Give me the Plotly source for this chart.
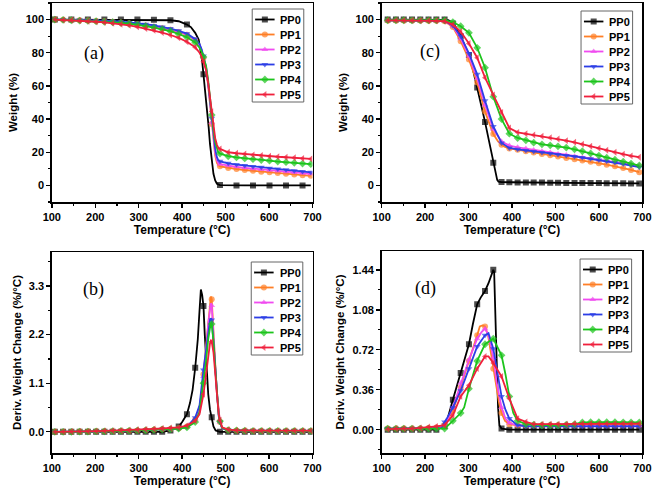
import plotly.graph_objects as go

# ---------------- data ----------------
names = ["PP0", "PP1", "PP2", "PP3", "PP4", "PP5"]

# panels (a) and (b): marker temperatures
T_ab = [107, 126, 145, 164, 183, 202, 221, 240, 259, 278, 297, 316, 335, 354, 373, 392,
        411, 430, 449, 468, 487, 506, 525, 544, 563, 582, 601, 620, 639, 658, 677, 696]
# panels (c) and (d): marker temperatures
T_cd = [114, 133, 151, 170, 189, 208, 226, 245, 264, 282, 301, 320, 338, 357, 376, 394,
        413, 432, 450, 469, 488, 506, 525, 544, 562, 581, 600, 618, 637, 656, 674, 693]

# (a) weight %
a_PP0 = [100, 100, 100, 100, 100, 100, 100, 100, 100, 100, 100, 100, 99.9, 99.8, 99.6, 99.0,
         97.0, 92.0, 67.0, 14.0, 0.2, 0, 0, 0, 0, 0, 0, 0, 0, 0, 0, 0]
a_PP1 = [100, 99.9, 99.8, 99.6, 99.4, 99.2, 99.0, 98.7, 98.3, 97.8, 97.2, 96.5, 95.7, 94.8, 93.8, 92.5,
         90.8, 87.5, 77.0, 37.0, 11.5, 10.5, 9.9, 9.3, 8.8, 8.3, 7.9, 7.5, 7.0, 6.6, 6.2, 5.8]
a_PP2 = [100, 99.9, 99.8, 99.7, 99.5, 99.3, 99.1, 98.8, 98.4, 98.0, 97.4, 96.8, 96.0, 95.1, 94.0, 92.7,
         91.0, 87.8, 77.5, 38.0, 12.8, 11.8, 11.2, 10.6, 10.1, 9.6, 9.1, 8.7, 8.2, 7.8, 7.4, 7.0]
a_PP3 = [100, 99.9, 99.8, 99.7, 99.6, 99.4, 99.2, 99.0, 98.7, 98.3, 97.8, 97.2, 96.5, 95.6, 94.6, 93.2,
         91.5, 88.3, 78.0, 40.5, 14.5, 13.3, 12.6, 12.0, 11.4, 10.9, 10.4, 9.9, 9.4, 8.9, 8.4, 7.9]
a_PP4 = [100, 99.8, 99.6, 99.4, 99.2, 99.0, 98.7, 98.4, 98.0, 97.5, 96.9, 96.1, 95.2, 94.2, 93.0, 91.3,
         89.3, 86.2, 77.5, 42.5, 19.2, 17.6, 16.9, 16.3, 15.8, 15.3, 14.9, 14.4, 14.0, 13.6, 13.2, 12.8]
a_PP5 = [100, 99.8, 99.6, 99.3, 99.0, 98.7, 98.3, 97.8, 97.2, 96.5, 95.6, 94.6, 93.5, 92.2, 90.7, 89.0,
         86.6, 83.3, 74.5, 44.5, 22.0, 20.0, 19.4, 18.9, 18.4, 18.0, 17.6, 17.3, 17.0, 16.7, 16.3, 16.0]
# (a) extra line points between markers
a_PP0_xT = [420, 438, 443, 446, 453, 457, 461, 464, 472, 476, 480]
a_PP0_xV = [95.5, 88, 81, 75, 57, 47, 35, 25, 7, 3, 1]
a_xT = [440, 445, 455, 460, 464, 472, 476, 480, 483]
a_PP1_xV = [84.5, 81.0, 70.0, 60.0, 49.0, 26.0, 18.0, 13.5, 12.2]
a_PP2_xV = [84.8, 81.5, 70.5, 60.5, 49.5, 27.5, 19.5, 15.0, 13.5]
a_PP3_xV = [85.3, 82.0, 71.5, 61.5, 51.0, 30.0, 22.0, 17.0, 15.3]
a_PP4_xV = [83.0, 80.5, 72.0, 63.0, 52.5, 33.5, 26.0, 21.5, 20.0]
a_PP5_xV = [80.0, 77.5, 69.5, 61.5, 53.0, 35.0, 28.5, 24.5, 22.8]

# (b) derivative weight change %/°C
b_PP0 = [0, 0, 0, 0, 0, 0, 0, 0, 0, 0, 0, 0, 0, 0, 0.03, 0.12,
         0.40, 1.45, 2.85, 0.33, 0.0, 0, 0, 0, 0, 0, 0, 0, 0, 0, 0, 0]
b_PP1 = [0, 0, 0, 0.005, 0.005, 0.01, 0.01, 0.015, 0.02, 0.025, 0.03, 0.035, 0.045, 0.055, 0.065, 0.08,
         0.12, 0.28, 1.3, 3.0, 0.22, 0.04, 0.03, 0.025, 0.02, 0.02, 0.02, 0.02, 0.02, 0.02, 0.02, 0.02]
b_PP2 = [0, 0, 0, 0.005, 0.005, 0.01, 0.01, 0.015, 0.02, 0.025, 0.03, 0.035, 0.045, 0.055, 0.065, 0.08,
         0.12, 0.28, 1.25, 2.86, 0.22, 0.04, 0.03, 0.025, 0.02, 0.02, 0.02, 0.02, 0.02, 0.02, 0.02, 0.02]
b_PP3 = [0, 0, 0, 0.005, 0.005, 0.01, 0.01, 0.015, 0.02, 0.025, 0.03, 0.035, 0.045, 0.055, 0.06, 0.07,
         0.11, 0.32, 1.4, 2.53, 0.22, 0.04, 0.03, 0.025, 0.02, 0.02, 0.02, 0.02, 0.02, 0.02, 0.02, 0.02]
b_PP4 = [0, 0, 0, 0.005, 0.005, 0.01, 0.01, 0.015, 0.02, 0.025, 0.03, 0.035, 0.045, 0.055, 0.06, 0.07,
         0.10, 0.22, 1.1, 2.44, 0.24, 0.04, 0.03, 0.025, 0.02, 0.02, 0.02, 0.02, 0.02, 0.02, 0.02, 0.02]
b_PP5 = [0, 0, 0.005, 0.01, 0.01, 0.015, 0.02, 0.025, 0.03, 0.035, 0.045, 0.055, 0.065, 0.075, 0.085, 0.1,
         0.14, 0.25, 0.85, 2.04, 0.26, 0.05, 0.03, 0.03, 0.025, 0.025, 0.025, 0.025, 0.025, 0.025, 0.025, 0.025]
b_PP0_xT = [380, 400, 418, 424, 436, 440, 443, 446, 452, 456, 460, 464, 472, 477]
b_PP0_xV = [0.06, 0.22, 0.65, 0.95, 2.1, 2.75, 3.22, 3.1, 2.2, 1.45, 0.85, 0.5, 0.12, 0.03]
b_xT = [440, 445, 455, 460, 464, 466, 472, 476, 480, 484, 492]
b_PP1_xV = [0.55, 0.9, 1.9, 2.55, 2.95, 3.06, 2.4, 1.55, 0.85, 0.38, 0.08]
b_PP2_xV = [0.55, 0.9, 1.85, 2.45, 2.82, 2.91, 2.3, 1.5, 0.85, 0.38, 0.08]
b_PP3_xV = [0.6, 1.1, 1.85, 2.3, 2.52, 2.57, 2.05, 1.4, 0.8, 0.36, 0.08]
b_PP4_xV = [0.45, 0.8, 1.6, 2.1, 2.4, 2.47, 2.05, 1.45, 0.85, 0.4, 0.09]
b_PP5_xV = [0.4, 0.65, 1.3, 1.75, 2.0, 2.06, 1.8, 1.35, 0.85, 0.4, 0.1]

# (c) weight %
c_PP0 = [100, 100, 100, 100, 100, 100, 100, 100, 97.6, 90.0, 78.6, 59.0, 38.3, 13.6, 2.0, 1.9,
         1.8, 1.8, 1.7, 1.7, 1.6, 1.6, 1.5, 1.5, 1.4, 1.4, 1.4, 1.3, 1.3, 1.3, 1.2, 1.2]
c_PP1 = [99.5, 99.5, 99.5, 99.4, 99.4, 99.3, 99.3, 99.0, 95.5, 87.0, 76.0, 62.0, 44.5, 31.0, 24.5, 22.3,
         21.5, 20.6, 19.8, 19.0, 18.2, 17.4, 16.6, 15.8, 15.0, 14.2, 13.4, 12.5, 11.5, 10.5, 9.3, 8.0]
c_PP2 = [99.5, 99.5, 99.5, 99.5, 99.4, 99.4, 99.3, 99.1, 96.0, 88.5, 78.0, 64.5, 48.5, 34.0, 26.5, 24.0,
         23.0, 22.2, 21.4, 20.6, 19.8, 19.0, 18.3, 17.6, 16.9, 16.2, 15.5, 14.8, 14.1, 13.4, 12.7, 12.0]
c_PP3 = [99.6, 99.6, 99.6, 99.5, 99.5, 99.4, 99.4, 99.2, 96.5, 90.0, 79.6, 67.0, 51.0, 35.6, 25.6, 22.6,
         21.8, 21.1, 20.5, 19.9, 19.3, 18.7, 18.1, 17.5, 16.8, 16.1, 15.4, 14.6, 13.8, 12.9, 12.0, 11.0]
c_PP4 = [99.6, 99.6, 99.6, 99.5, 99.5, 99.5, 99.5, 99.5, 98.5, 96.0, 92.0, 83.0, 71.0, 53.5, 40.0, 31.2,
         28.6, 27.2, 25.8, 24.8, 24.2, 23.6, 22.8, 21.8, 20.6, 19.3, 18.0, 16.7, 15.5, 14.3, 13.2, 12.0]
c_PP5 = [99.5, 99.5, 99.4, 99.4, 99.3, 99.3, 99.2, 99.0, 97.0, 92.8, 85.6, 77.0, 65.0, 54.6, 44.0, 34.6,
         32.0, 31.2, 30.4, 29.6, 28.8, 28.0, 27.0, 26.0, 24.8, 23.6, 22.4, 21.2, 20.0, 18.8, 17.8, 17.0]
c_PP0_xT = [252, 256, 270, 290, 310, 330, 347, 352, 362, 366, 369]
c_PP0_xV = [99.8, 99.3, 95.8, 85.5, 70.0, 47.5, 27.0, 20.5, 7.0, 3.3, 2.3]
c_PP1_xT = [368, 384]
c_PP1_xV = [26.5, 23.2]

# (d) derivative weight change %/°C
d_PP0 = [0, 0, 0, 0, 0, 0, 0, 0.03, 0.27, 0.51, 0.77, 1.13, 1.25, 1.44, 0.01, 0,
         0, 0, 0, 0, 0, 0, 0, 0, 0, 0, 0, 0, 0, 0, 0, 0]
d_PP1 = [0.01, 0.01, 0.01, 0.01, 0.01, 0.015, 0.02, 0.04, 0.17, 0.38, 0.62, 0.85, 0.93, 0.55, 0.15, 0.05,
         0.04, 0.04, 0.04, 0.04, 0.04, 0.04, 0.04, 0.04, 0.045, 0.045, 0.045, 0.045, 0.045, 0.045, 0.045, 0.045]
d_PP2 = [0.01, 0.01, 0.01, 0.01, 0.01, 0.015, 0.02, 0.03, 0.2, 0.42, 0.63, 0.82, 0.91, 0.65, 0.2, 0.06,
         0.04, 0.035, 0.035, 0.035, 0.035, 0.035, 0.035, 0.035, 0.035, 0.035, 0.035, 0.035, 0.035, 0.035, 0.035, 0.035]
d_PP3 = [0.01, 0.01, 0.01, 0.01, 0.01, 0.01, 0.01, 0.07, 0.2, 0.35, 0.55, 0.75, 0.85, 0.73, 0.3, 0.1,
         0.04, 0.03, 0.03, 0.03, 0.03, 0.03, 0.03, 0.03, 0.03, 0.03, 0.03, 0.03, 0.03, 0.03, 0.03, 0.03]
d_PP4 = [0.01, 0.01, 0.01, 0.01, 0.01, 0.01, 0.01, 0.01, 0.08, 0.15, 0.37, 0.62, 0.77, 0.82, 0.67, 0.3,
         0.08, 0.05, 0.045, 0.04, 0.04, 0.04, 0.045, 0.05, 0.065, 0.068, 0.068, 0.068, 0.068, 0.066, 0.065, 0.065]
d_PP5 = [0.005, 0.01, 0.01, 0.01, 0.015, 0.025, 0.03, 0.04, 0.13, 0.3, 0.4, 0.55, 0.66, 0.6, 0.48, 0.28,
         0.1, 0.07, 0.05, 0.05, 0.05, 0.05, 0.05, 0.055, 0.055, 0.055, 0.055, 0.055, 0.055, 0.055, 0.055, 0.055]
d_PP0_xT = [252, 310, 328, 346, 359, 362, 365, 368, 371]
d_PP0_xV = [0.1, 0.95, 1.19, 1.32, 1.42, 1.1, 0.6, 0.2, 0.04]
d_PP1_xT = [326, 332, 345, 350, 365, 370, 384]
d_PP1_xV = [0.93, 0.94, 0.85, 0.73, 0.35, 0.25, 0.08]
d_PP2_xT = [330, 345, 350, 365, 385]
d_PP2_xV = [0.88, 0.86, 0.78, 0.42, 0.1]
d_PP3_xT = [238, 250, 346, 365, 385]
d_PP3_xV = [0.015, 0.1, 0.87, 0.55, 0.18]
d_PP4_xT = [290, 295, 385, 403]
d_PP4_xV = [0.2, 0.28, 0.5, 0.15]
d_PP5_xT = [346]
d_PP5_xV = [0.66]

# ---------------- styling ----------------
colors = ["#000000", "#FF7F27", "#F04BF0", "#2C3EE6", "#1DC41D", "#F0203C"]
symbols = ["square", "circle", "triangle-up", "triangle-down", "diamond", "triangle-left"]
FONT = "Liberation Sans, Arial, sans-serif"
MS = 6
LW = 1.8
W, H = 663, 492

fig = go.Figure()


def add_series(T, V, xT, xV, i, xa, ya, every=1):
    pts = [(t, v, True) for t, v in zip(T, V)] + [(t, v, False) for t, v in zip(xT, xV)]
    pts.sort(key=lambda p: p[0])
    xs = [p[0] for p in pts]
    ys = [p[1] for p in pts]
    sizes = []
    k = 0
    for p in pts:
        if p[2]:
            sizes.append(MS if k % every == 0 else 0)
            k += 1
        else:
            sizes.append(0)
    fig.add_trace(go.Scatter(
        x=xs, y=ys, mode="lines+markers", xaxis=xa, yaxis=ya, showlegend=False,
        line=dict(color=colors[i], width=LW),
        marker=dict(symbol=symbols[i], size=sizes, color=colors[i], line=dict(width=0)),
        hoverinfo="skip"))


panels = [
    ("x", "y", T_ab,
     [a_PP0, a_PP1, a_PP2, a_PP3, a_PP4, a_PP5],
     [(a_PP0_xT, a_PP0_xV), (a_xT, a_PP1_xV), (a_xT, a_PP2_xV), (a_xT, a_PP3_xV), (a_xT, a_PP4_xV), (a_xT, a_PP5_xV)],
     2),
    ("x2", "y2", T_cd,
     [c_PP0, c_PP1, c_PP2, c_PP3, c_PP4, c_PP5],
     [(c_PP0_xT, c_PP0_xV), (c_PP1_xT, c_PP1_xV), ([], []), ([], []), ([], []), ([], [])],
     1),
    ("x3", "y3", T_ab,
     [b_PP0, b_PP1, b_PP2, b_PP3, b_PP4, b_PP5],
     [(b_PP0_xT, b_PP0_xV), (b_xT, b_PP1_xV), (b_xT, b_PP2_xV), (b_xT, b_PP3_xV), (b_xT, b_PP4_xV), (b_xT, b_PP5_xV)],
     1),
    ("x4", "y4", T_cd,
     [d_PP0, d_PP1, d_PP2, d_PP3, d_PP4, d_PP5],
     [(d_PP0_xT, d_PP0_xV), (d_PP1_xT, d_PP1_xV), (d_PP2_xT, d_PP2_xV), (d_PP3_xT, d_PP3_xV), (d_PP4_xT, d_PP4_xV), (d_PP5_xT, d_PP5_xV)],
     1),
]

for xa, ya, T, series, extras, every0 in panels:
    for i in range(6):
        add_series(T, series[i], extras[i][0], extras[i][1], i, xa, ya, every=every0 if i == 0 else 1)

# ---------------- legends (compact, drawn in a pixel-coordinate overlay axis) ----------------
legfont = dict(family=FONT, size=11, color="black", weight="bold")
legend_boxes = [(250, 9), (588, 11), (249, 262), (587, 259)]  # left, top in px
LEG_W, LEG_H, LEG_DY, LEG_Y0 = 53, 93, 15, 10.5
for (lx, ly) in legend_boxes:
    fig.add_shape(type="rect", xref="x5", yref="y5", x0=lx, x1=lx + LEG_W, y0=ly, y1=ly + LEG_H,
                  line=dict(color="#666666", width=1), fillcolor="rgba(0,0,0,0)", layer="above")
    for i in range(6):
        yy = ly + LEG_Y0 + LEG_DY * i
        fig.add_trace(go.Scatter(
            x=[lx + 3, lx + 13, lx + 23], y=[yy, yy, yy], mode="lines+markers",
            xaxis="x5", yaxis="y5", showlegend=False, hoverinfo="skip",
            line=dict(color=colors[i], width=LW),
            marker=dict(symbol=symbols[i], size=[0, MS, 0], color=colors[i], line=dict(width=0))))
        fig.add_annotation(text=names[i], x=lx + 27, y=yy, xref="x5", yref="y5", xanchor="left",
                           yanchor="middle", showarrow=False, font=legfont)


def xdom(l, r):
    return [l / W, r / W]


def ydom(t, b):
    return [1 - b / H, 1 - t / H]


tickfont = dict(family=FONT, size=11, color="black", weight="bold")
xtitlefont = dict(family=FONT, size=12, color="black", weight="bold")
ytitlefont = dict(family=FONT, size=11.5, color="black", weight="bold")


def xaxis(dom, anchor):
    return dict(domain=dom, anchor=anchor, range=[100, 700], dtick=100, tick0=0,
                showline=True, linecolor="black", linewidth=1.5, mirror=True,
                ticks="outside", ticklen=4, tickwidth=1.4, tickcolor="black",
                showgrid=False, zeroline=False, tickfont=tickfont,
                minor=dict(dtick=50, ticks="outside", ticklen=2.5, tickwidth=1.2, tickcolor="black", showgrid=False),
                title=dict(text="Temperature (°C)", font=xtitlefont, standoff=4))


def yaxis(dom, anchor, rng, dtick, mdtick, fmt, title):
    return dict(domain=dom, anchor=anchor, range=rng, dtick=dtick, tick0=0, tickformat=fmt,
                showline=True, linecolor="black", linewidth=1.5, mirror=True,
                ticks="outside", ticklen=4, tickwidth=1.4, tickcolor="black",
                showgrid=False, zeroline=False, tickfont=tickfont,
                minor=dict(dtick=mdtick, ticks="outside", ticklen=2.5, tickwidth=1.2, tickcolor="black", showgrid=False),
                title=dict(text=title, font=ytitlefont, standoff=5))


XL, XR = 44, 312
XL2, XR2 = 383, 651

fig.update_layout(
    width=W, height=H, margin=dict(l=0, r=0, t=0, b=0),
    paper_bgcolor="white", plot_bgcolor="rgba(0,0,0,0)", showlegend=False,
    font=dict(family=FONT, color="black"),
    xaxis=xaxis(xdom(XL, XR), "y"),
    yaxis=yaxis(ydom(3, 202), "x", [-10, 110], 20, 10, "d", "Weight (%)"),
    xaxis2=xaxis(xdom(XL2, XR2), "y2"),
    yaxis2=yaxis(ydom(3, 202), "x2", [-10, 110], 20, 10, "d", "Weight (%)"),
    xaxis3=xaxis(xdom(XL, XR), "y3"),
    yaxis3=yaxis(ydom(252, 453), "x3", [-0.48, 4.07], 1.1, 0.55, ".1f", "Deriv. Weight Change (%/°C)"),
    xaxis4=xaxis(xdom(XL2, XR2), "y4"),
    yaxis4=yaxis(ydom(251, 453), "x4", [-0.21, 1.61], 0.36, 0.18, ".2f", "Deriv. Weight Change (%/°C)"),
    xaxis5=dict(domain=[0, 1], anchor="y5", range=[0, W], visible=False, fixedrange=True),
    yaxis5=dict(domain=[0, 1], anchor="x5", range=[H, 0], visible=False, fixedrange=True),
)

labels = [("(a)", "x", "y", 0.116, 0.81), ("(c)", "x2", "y2", 0.138, 0.82),
          ("(b)", "x3", "y3", 0.112, 0.876), ("(d)", "x4", "y4", 0.119, 0.876)]
for txt, xa, ya, fx, fy in labels:
    fig.add_annotation(text=txt, x=fx, y=fy, xref=xa + " domain", yref=ya + " domain",
                       showarrow=False, font=dict(family="Liberation Serif, Times New Roman, serif", size=18, color="black"))

fig.write_html("out.html", config={"displayModeBar": False, "staticPlot": True},
               post_script="document.body.style.margin='0px';document.body.style.overflow='hidden';")
